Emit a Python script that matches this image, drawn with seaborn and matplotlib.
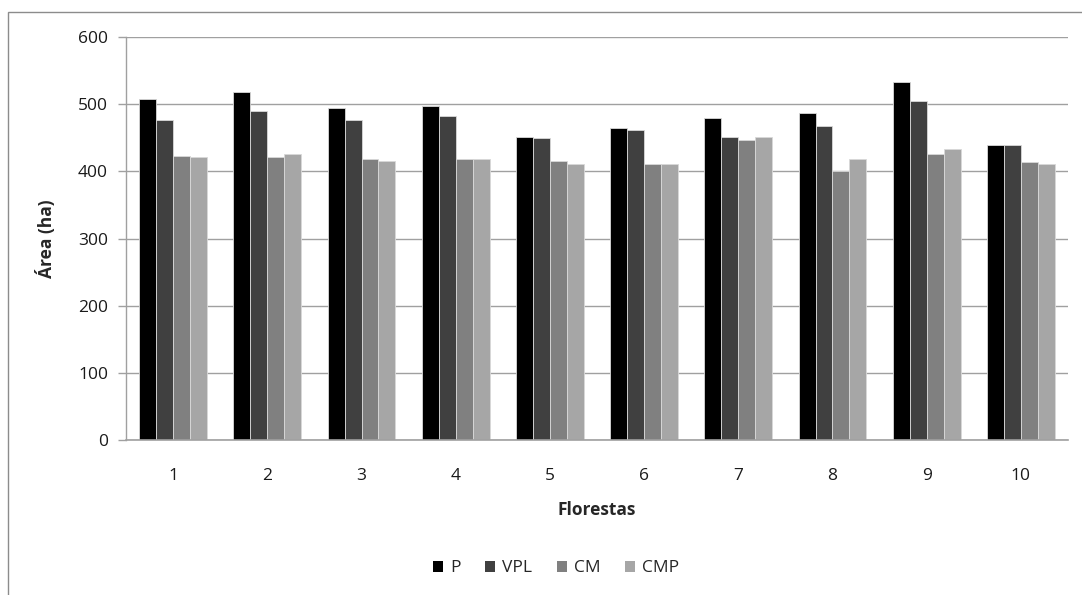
import pandas as pd
import matplotlib.pyplot as plt
import matplotlib.patches as mpatches
import seaborn as sns

# Area (ha) per forest, one list per method
FLORESTAS = ["1", "2", "3", "4", "5", "6", "7", "8", "9", "10"]
P = [507, 518, 495, 498, 451, 464, 479, 487, 533, 439]
VPL = [477, 490, 477, 483, 449, 462, 451, 467, 505, 439]
CM = [423, 421, 418, 418, 415, 411, 446, 400, 426, 414]
CMP = [421, 426, 416, 418, 411, 411, 451, 418, 433, 411]

METHODS = ["P", "VPL", "CM", "CMP"]
COLORS = {"P": "#000000", "VPL": "#404040", "CM": "#808080", "CMP": "#A6A6A6"}

df = pd.DataFrame({"Florestas": FLORESTAS, "P": P, "VPL": VPL, "CM": CM, "CMP": CMP})
long_df = df.melt(id_vars="Florestas", var_name="metodo", value_name="area")

sns.set_style("white")
plt.rcParams["font.family"] = ["Open Sans", "DejaVu Sans"]
FS = 12.5

fig = plt.figure(figsize=(10.82, 5.95), dpi=100)
ax = fig.add_axes([0.1165, 0.2605, 0.8705, 0.6773])

sns.barplot(
    data=long_df,
    x="Florestas",
    y="area",
    hue="metodo",
    hue_order=METHODS,
    order=FLORESTAS,
    palette=COLORS,
    width=0.72,
    edgecolor="#d9d9d9",
    linewidth=0.6,
    ax=ax,
    legend=False,
)

ax.set_xlim(-0.5, 9.5)
ax.set_ylim(0, 600)
ax.set_yticks(range(0, 601, 100))
ax.yaxis.grid(True, color="#a0a0a0", linewidth=1.0)
ax.set_axisbelow(True)

for side in ["top", "right"]:
    ax.spines[side].set_visible(False)
ax.spines["left"].set_color("#a0a0a0")
ax.spines["bottom"].set_color("#a0a0a0")
ax.spines["left"].set_linewidth(1.0)
ax.spines["bottom"].set_linewidth(1.2)

ax.tick_params(axis="y", which="major", left=True, length=6, width=1, color="#a0a0a0",
               labelsize=FS, labelcolor="#1a1a1a", pad=7)
ax.tick_params(axis="x", bottom=False, labelsize=FS, labelcolor="#1a1a1a", pad=17)

ax.set_xlabel("Florestas", fontsize=FS, fontweight="bold", labelpad=12)
ax.set_ylabel("Área (ha)", fontsize=FS, fontweight="bold", labelpad=16)

handles = [mpatches.Patch(facecolor=COLORS[m], edgecolor="none", label=m) for m in METHODS]
fig.legend(handles=handles, loc="center", bbox_to_anchor=(0.514, 0.045), ncol=4, frameon=False,
           fontsize=FS, handlelength=0.6, handleheight=0.6, handletextpad=0.4, columnspacing=1.4)

# outer chart border
border = mpatches.Rectangle((8 / 1082, -0.01), 1.1, 1 - 12 / 595 + 0.01, transform=fig.transFigure,
                            fill=False, edgecolor="#8c8c8c", linewidth=1.0)
fig.add_artist(border)

fig.savefig("out.png", dpi=100)
